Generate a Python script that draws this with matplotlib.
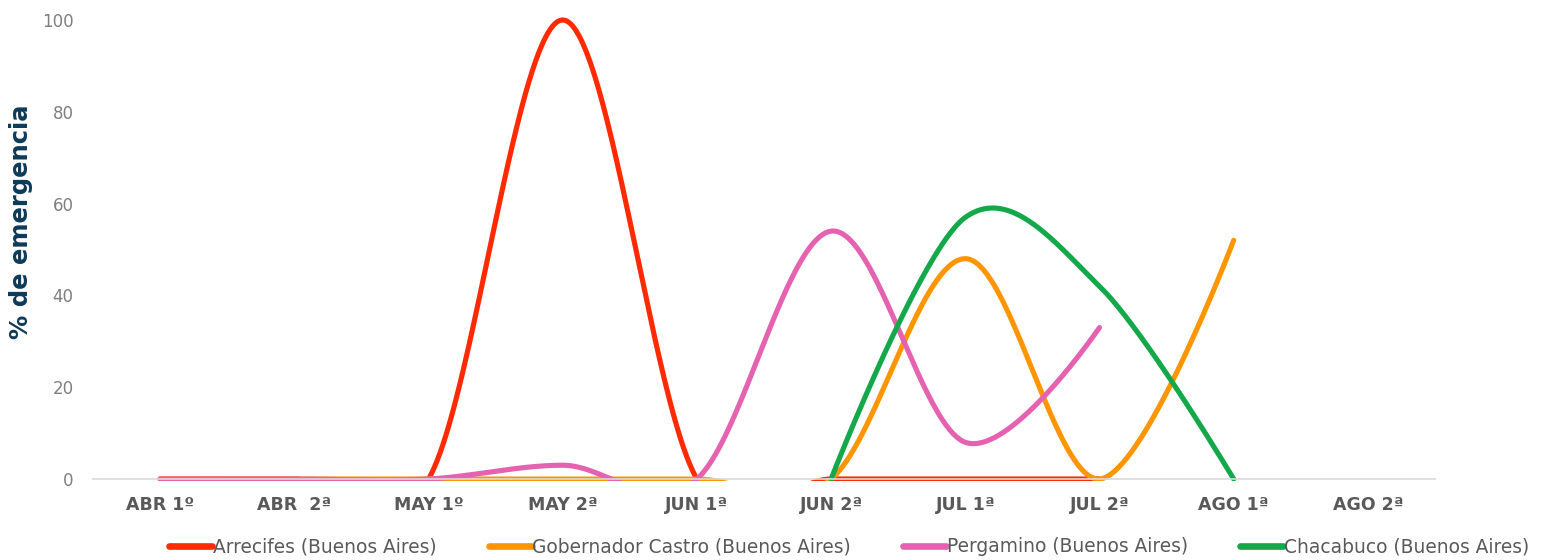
import numpy as np
import matplotlib
matplotlib.use("Agg")
import matplotlib.pyplot as plt
from matplotlib.patches import Rectangle
from matplotlib.lines import Line2D

categories = ["ABR 1º", "ABR  2ª", "MAY 1º", "MAY 2ª", "JUN 1ª",
              "JUN 2ª", "JUL 1ª", "JUL 2ª", "AGO 1ª", "AGO 2ª"]
arrecifes = [0, 0, 0, 100, 0, 0, 0, 0, None, None]
gob_castro = [0, 0, 0, 0, 0, 0, 48, 0, 52, None]
pergamino = [0, 0, 0, 3, 0, 54, 8, 33, None, None]
chacabuco = [None, None, None, None, None, 0, 57, 42, 0, None]

series = [
    ("Arrecifes (Buenos Aires)", arrecifes, "#ff2a00"),
    ("Gobernador Castro (Buenos Aires)", gob_castro, "#ff9500"),
    ("Pergamino (Buenos Aires)", pergamino, "#e462b0"),
    ("Chacabuco (Buenos Aires)", chacabuco, "#14a84a"),
]


def smooth(vals, n=80):
    """Excel-like smoothed line: cubic Bezier, control points from neighbours."""
    y = np.array([np.nan if v is None else v for v in vals], dtype=float)
    x = np.arange(len(y), dtype=float)
    ok = ~np.isnan(y)
    P = np.column_stack([x, y])
    xs, ys = [], []
    N = len(y)
    i = 0
    t = np.linspace(0, 1, n)[:, None]
    while i < N:
        if not ok[i]:
            i += 1
            continue
        j = i
        while j + 1 < N and ok[j + 1]:
            j += 1
        for k in range(i, j):
            p1, p2 = P[k], P[k + 1]
            c1 = p1 + (p2 - P[k - 1]) / 6.0 if k - 1 >= i else p1
            c2 = p2 - (P[k + 2] - p1) / 6.0 if k + 2 <= j else p2
            B = ((1 - t) ** 3) * p1 + 3 * ((1 - t) ** 2) * t * c1 \
                + 3 * (1 - t) * t ** 2 * c2 + t ** 3 * p2
            xs.extend(B[:, 0])
            ys.extend(B[:, 1])
        xs.append(np.nan)
        ys.append(np.nan)
        i = j + 1
    return np.array(xs), np.array(ys)


fig = plt.figure(figsize=(15.47, 5.6), dpi=100)
ax = fig.add_axes([93 / 1547, 1 - 479 / 560, (1435 - 93) / 1547, (479 - 20) / 560])

clip = Rectangle((0, -0.005), 1, 1.03, transform=ax.transAxes, facecolor="none")
handles = []
for name, vals, col in series:
    sx, sy = smooth(vals)
    ln, = ax.plot(sx, sy, color=col, lw=3.7, solid_capstyle="round")
    ln.set_clip_path(clip)
    handles.append(Line2D([], [], color=col, lw=4.8, solid_capstyle="round"))

ax.set_xlim(-0.5, len(categories) - 0.5)
ax.set_ylim(0, 100)
ax.set_xticks(range(len(categories)))
ax.set_xticklabels(categories, fontsize=12.5, fontweight="bold", color="#595959")
ax.set_yticks([0, 20, 40, 60, 80, 100])
ax.tick_params(axis="y", length=0, pad=14, labelsize=12, labelcolor="#7f7f7f")
ax.tick_params(axis="x", length=0, pad=12)
for s in ["top", "right", "left"]:
    ax.spines[s].set_visible(False)
ax.spines["bottom"].set_color("#d9d9d9")
ax.spines["bottom"].set_linewidth(1.2)

ax.set_ylabel("% de emergencia", fontsize=17.5, fontweight="bold", color="#0d3a58")
ax.yaxis.set_label_coords(-0.0445, 0.56)

fig.legend(handles, [s[0] for s in series], loc="center", ncol=4,
           bbox_to_anchor=(0.549, 0.024), frameon=False, fontsize=13.4,
           labelcolor="#595959", handlelength=2.3, handletextpad=0.05,
           columnspacing=2.8)

fig.savefig("out.png", dpi=100)
